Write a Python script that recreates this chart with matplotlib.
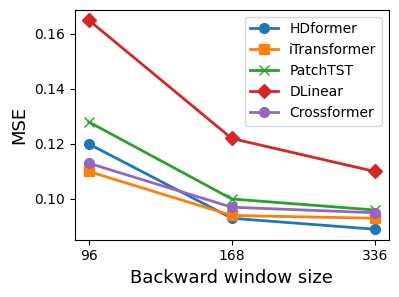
import matplotlib
matplotlib.use('Agg')
import matplotlib.pyplot as plt

windows = ['96', '168', '336']
hdformer = [0.120, 0.093, 0.089]
itransformer = [0.110, 0.094, 0.093]
patchtst = [0.128, 0.100, 0.096]
dlinear = [0.165, 0.122, 0.110]
crossformer = [0.113, 0.097, 0.095]

series = [
    ('HDformer', hdformer, 'o', 'tab:blue'),
    ('iTransformer', itransformer, 's', 'tab:orange'),
    ('PatchTST', patchtst, 'x', 'tab:green'),
    ('DLinear', dlinear, 'D', 'tab:red'),
    ('Crossformer', crossformer, 'o', 'tab:purple'),
]

fig, ax = plt.subplots(figsize=(3.99, 2.97), dpi=100)
x = range(len(windows))
for name, vals, mk, c in series:
    ax.plot(x, vals, marker=mk, color=c, linewidth=2, markersize=7, label=name)

ax.set_xticks(list(x))
ax.set_xticklabels(windows, fontsize=10)
ax.tick_params(axis='y', labelsize=10)
ax.set_yticks([0.10, 0.12, 0.14, 0.16])
ax.set_xlabel('Backward window size', fontsize=13)
ax.set_ylabel('MSE', fontsize=13)
ax.legend(loc='upper right', fontsize=10)

plt.subplots_adjust(left=0.187, right=0.975, top=0.967, bottom=0.193)
plt.savefig('out.png', dpi=100)
plt.close()
